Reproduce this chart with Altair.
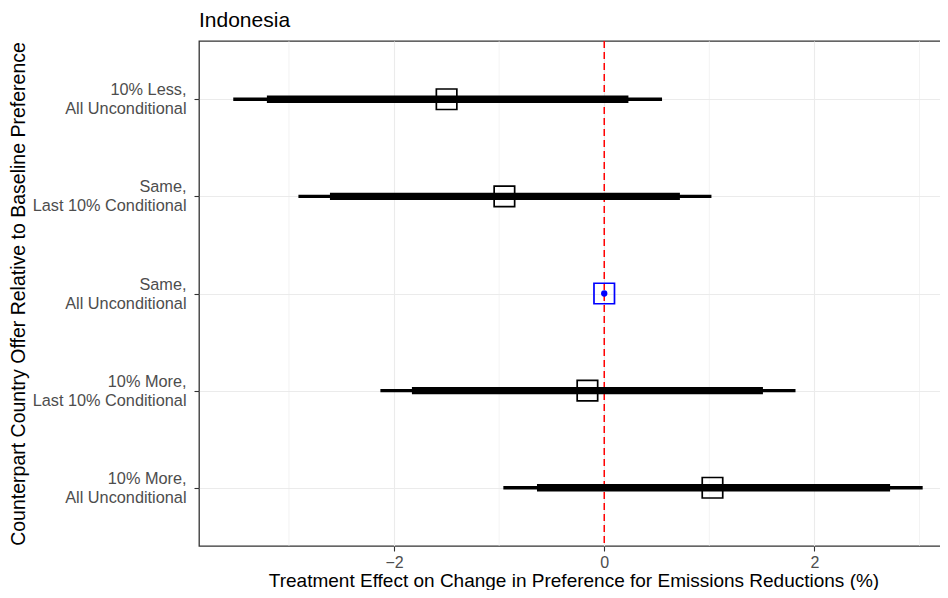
import altair as alt
import pandas as pd

# ---- data ----
labels = [
    "10% Less,|All Unconditional",
    "Same,|Last 10% Conditional",
    "Same,|All Unconditional",
    "10% More,|Last 10% Conditional",
    "10% More,|All Unconditional",
]
estimate = [-1.50, -0.95, 0.0, -0.16, 1.03]
lo95 = [-3.53, -2.91, 0.0, -2.13, -0.96]
hi95 = [0.55, 1.02, 0.0, 1.82, 3.03]
lo90 = [-3.21, -2.61, 0.0, -1.83, -0.64]
hi90 = [0.23, 0.72, 0.0, 1.51, 2.72]
is_reference = [0, 0, 1, 0, 0]

major_ticks = [-2, 0, 2]
minor_ticks = [-3, -1, 1, 3]
zero_line = [0]
panel_title = ["Indonesia"]

df = pd.DataFrame({
    "label": labels, "est": estimate, "lo95": lo95, "hi95": hi95,
    "lo90": lo90, "hi90": hi90, "ref": is_reference,
})
minor_df = pd.DataFrame({"v": minor_ticks})
zero_df = pd.DataFrame({"v": zero_line})
title_df = pd.DataFrame({"t": panel_title})

FONT = "Liberation Sans"
GRID = "#EBEBEB"

xscale = alt.Scale(domain=[-3.856, 3.271], nice=False, zero=False)
xaxis = alt.Axis(
    title="Treatment Effect on Change in Preference for Emissions Reductions (%)",
    values=major_ticks, grid=True, gridColor=GRID, gridWidth=1.1,
    domain=False, ticks=True, tickColor="#333333", tickSize=5, tickWidth=1.1,
    labelFont=FONT, labelFontSize=16, labelColor="#4D4D4D", labelPadding=3,
    titleFont=FONT, titleFontSize=19, titleFontWeight="normal", titleColor="black",
    titleX=374.5, titleY=40, titleBaseline="alphabetic", titleAlign="center",
)
yscale = alt.Scale(type="point", padding=0.6, domain=labels)
yaxis = alt.Axis(
    title="Counterpart Country Offer Relative to Baseline Preference",
    grid=True, gridColor=GRID, gridWidth=1.1,
    domain=False, ticks=True, tickColor="#333333", tickSize=5, tickWidth=1.1,
    labelFont=FONT, labelFontSize=16.3, labelColor="#4D4D4D", labelPadding=8,
    labelExpr="split(datum.label, '|')", labelLineHeight=19, labelAlign="right",
    labelBaseline="middle", labelOffset=-9.5,
    titleFont=FONT, titleFontSize=19.5, titleFontWeight="normal", titleColor="black",
    titleX=-181, titleY=252.5, titleAngle=270, titleBaseline="middle", titleAlign="center",
)

minor = alt.Chart(minor_df).mark_rule(color=GRID, strokeWidth=0.6).encode(
    x=alt.X("v:Q", scale=xscale, axis=xaxis)
)

zero = alt.Chart(zero_df).mark_rule(color="red", strokeWidth=1.5, strokeDash=[7, 4]).encode(
    x=alt.X("v:Q", scale=xscale, axis=xaxis)
)

bars = alt.Chart(df).transform_filter("datum.ref == 0")

thin = bars.mark_rule(color="black", strokeWidth=3.3).encode(
    x=alt.X("lo95:Q", scale=xscale, axis=xaxis),
    x2="hi95:Q",
    y=alt.Y("label:N", scale=yscale, axis=yaxis, sort=labels),
)
thick = bars.mark_rule(color="black", strokeWidth=7.3).encode(
    x=alt.X("lo90:Q", scale=xscale, axis=xaxis),
    x2="hi90:Q",
    y=alt.Y("label:N", scale=yscale, axis=yaxis, sort=labels),
)
squares = alt.Chart(df).mark_point(shape="square", filled=False, size=420, strokeWidth=1.7, opacity=1).encode(
    x=alt.X("est:Q", scale=xscale, axis=xaxis),
    y=alt.Y("label:N", scale=yscale, axis=yaxis, sort=labels),
    color=alt.condition("datum.ref == 1", alt.value("blue"), alt.value("black")),
)
dot = alt.Chart(df).transform_filter("datum.ref == 1").mark_point(
    shape="circle", filled=True, size=40, color="blue", opacity=1
).encode(
    x=alt.X("est:Q", scale=xscale, axis=xaxis),
    y=alt.Y("label:N", scale=yscale, axis=yaxis, sort=labels),
)

title_text = alt.Chart(title_df).mark_text(
    align="left", baseline="alphabetic", font=FONT, fontSize=21, color="black"
).encode(
    text="t:N", x=alt.value(0), y=alt.value(-13.9)
)

chart = alt.layer(minor, zero, thin, thick, squares, dot, title_text).properties(
    width=749, height=505,
    autosize=alt.AutoSizeParams(type="none"),
    padding={"left": 191, "top": 33, "right": -8, "bottom": 44},
).configure(background="white").configure_view(stroke="#333333", strokeWidth=1.3)

chart.save("out.html", embed_options={"renderer": "svg", "actions": False})
